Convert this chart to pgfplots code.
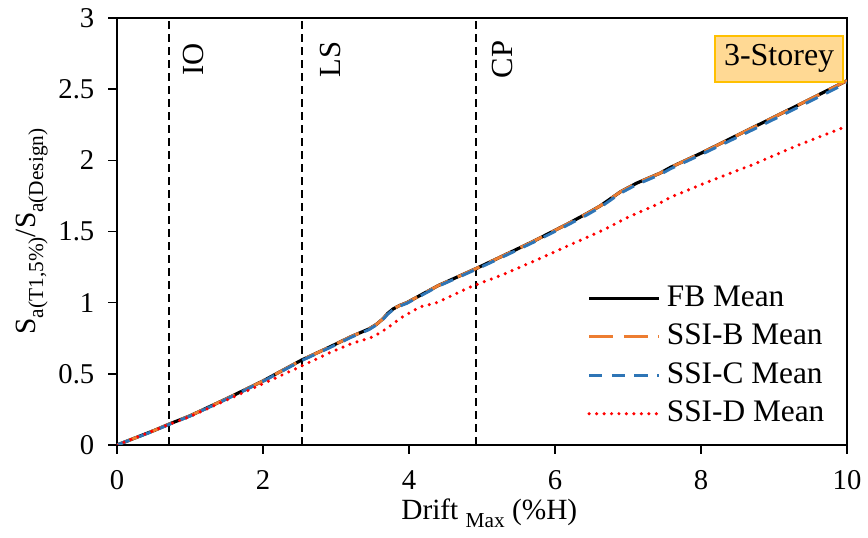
\documentclass[border=0pt]{standalone}
\usepackage{pgfplots}
\pgfplotsset{compat=1.18}
\usepackage{fontspec}
\setmainfont{Liberation Serif}
\definecolor{cOrange}{HTML}{ED7D31}
\definecolor{cBlue}{HTML}{2E75B6}
\definecolor{cRed}{HTML}{FF0000}
\definecolor{boxFill}{HTML}{FFD994}
\definecolor{boxDraw}{HTML}{FFC000}
\newcommand{\sub}[1]{\raisebox{-5.5pt}{\fontsize{16}{18}\selectfont #1}}
\begin{document}
\begin{tikzpicture}
\begin{axis}[
  scale only axis, width=547.5pt, height=320.25pt,
  xmin=0, xmax=10, ymin=0, ymax=3,
  xtick={0,2,4,6,8,10}, ytick={0,0.5,1,1.5,2,2.5,3},
  xtick pos=bottom, ytick pos=left,
  tick align=outside, major tick length=6.5pt,
  axis line style={line width=1.1pt},
  every tick/.style={line width=1.1pt, black},
  /pgf/number format/assume math mode=true,
  tick label style={font=\fontsize{21.5}{25}\selectfont},
  xticklabel style={yshift=-9pt},
  yticklabel style={xshift=-7pt},
  xlabel={Drift \sub{Max} (\%H)},
  ylabel={S\sub{a(T1,5\%)}/S\sub{a(Design)}},
  label style={font=\fontsize{22}{26}\selectfont},
  xlabel style={at={(axis description cs:0.51,-0.1756)}, anchor=base, inner sep=0pt},
  ylabel style={at={(axis description cs:-0.0945,0.5)}, anchor=south, inner sep=0pt},
  legend cell align=left,
  legend style={draw=none, fill=none, at={(axis description cs:0.644,0.378)}, anchor=north west,
    font=\fontsize{23.5}{28}\selectfont, inner sep=0pt, row sep=6.8pt, column sep=4.5pt,
    nodes={inner sep=0pt, text height=17pt, text depth=5pt}},
  legend image code/.code={\draw[#1] (0pt,0pt) -- (52.5pt,0pt);},
]
% limit-state lines
\addplot[black, line width=0.9pt, dash pattern=on 6pt off 3.75pt, forget plot] coordinates {(0.712,0) (0.712,3)};
\addplot[black, line width=0.9pt, dash pattern=on 6pt off 3.75pt, forget plot] coordinates {(2.534,0) (2.534,3)};
\addplot[black, line width=0.9pt, dash pattern=on 6pt off 3.75pt, forget plot] coordinates {(4.918,0) (4.918,3)};
\node[rotate=90, anchor=north, inner sep=0pt, font=\fontsize{23}{27}\selectfont] at (axis cs:0.90,2.71) {IO};
\node[rotate=90, anchor=north, inner sep=0pt, font=\fontsize{23}{27}\selectfont] at (axis cs:2.78,2.71) {LS};
\node[rotate=90, anchor=north, inner sep=0pt, font=\fontsize{23}{27}\selectfont] at (axis cs:5.14,2.71) {CP};
% FB Mean
\addplot[black, line width=2.4pt] coordinates {
(0,0) (0.5,0.10) (0.72,0.148) (1.0,0.205) (1.5,0.325) (2.0,0.45) (2.53,0.597) (2.92,0.69)
(3.2,0.76) (3.45,0.815) (3.56,0.85) (3.64,0.885) (3.71,0.925) (3.78,0.955) (3.87,0.98) (3.97,1.0) (4.4,1.12) (4.92,1.24)
(5.25,1.32) (5.7,1.43) (6.16,1.55) (6.45,1.63) (6.62,1.68) (6.9,1.78) (7.12,1.84) (7.44,1.91)
(7.58,1.95) (8.0,2.05) (8.71,2.23) (9.3,2.38) (10,2.56)};
\addlegendentry{FB Mean}
% SSI-B Mean
\addplot[cOrange, line width=2.2pt, dash pattern=on 18pt off 8pt] coordinates {
(0,0) (0.5,0.10) (0.72,0.148) (1.0,0.205) (1.5,0.325) (2.0,0.45) (2.53,0.597) (2.92,0.69)
(3.2,0.76) (3.45,0.815) (3.56,0.85) (3.64,0.885) (3.71,0.925) (3.78,0.955) (3.87,0.98) (3.97,1.0) (4.4,1.12) (4.92,1.24)
(5.25,1.32) (5.7,1.43) (6.16,1.55) (6.45,1.63) (6.62,1.68) (6.9,1.78) (7.12,1.84) (7.44,1.91)
(7.58,1.95) (8.0,2.05) (8.71,2.23) (9.3,2.38) (10,2.56)};
\addlegendentry{SSI-B Mean}
% SSI-C Mean
\addplot[cBlue, line width=2.2pt, dash pattern=on 10pt off 7pt] coordinates {
(0,0) (0.5,0.098) (0.72,0.146) (1.0,0.203) (1.5,0.322) (2.0,0.447) (2.53,0.593) (2.92,0.685)
(3.2,0.755) (3.45,0.81) (3.56,0.845) (3.64,0.88) (3.71,0.92) (3.78,0.95) (3.87,0.975) (3.97,0.995) (4.4,1.115) (4.92,1.234)
(5.25,1.313) (5.7,1.423) (6.16,1.542) (6.45,1.62) (6.62,1.67) (6.9,1.77) (7.12,1.83) (7.44,1.90)
(7.58,1.94) (8.0,2.04) (8.71,2.215) (9.3,2.365) (10,2.545)};
\addlegendentry{SSI-C Mean}
% SSI-D Mean
\addplot[cRed, line width=2.6pt, line cap=round, dash pattern=on 0pt off 5.6pt] coordinates {
(0,0) (0.5,0.10) (0.72,0.146) (1.0,0.20) (1.5,0.315) (2.0,0.43) (2.5,0.548) (2.92,0.65)
(3.2,0.71) (3.51,0.76) (3.70,0.82) (3.88,0.89) (4.15,0.97) (4.38,1.0) (4.84,1.11) (5.3,1.20)
(5.75,1.30) (6.2,1.405) (6.66,1.51) (7.0,1.60) (7.44,1.70) (7.58,1.74) (8.1,1.85) (8.71,1.97)
(9.3,2.10) (10,2.24)};
\addlegendentry{SSI-D Mean}
\node[draw=boxDraw, fill=boxFill, line width=1.2pt, minimum width=96pt, minimum height=34.5pt, inner sep=0pt,
  font=\fontsize{24}{28}\selectfont] at (axis cs:9.07,2.713) {3-Storey};
\coordinate (bl) at (rel axis cs:0,0);
\coordinate (tr) at (rel axis cs:1,1);
\end{axis}
\pgfresetboundingbox
\useasboundingbox ([shift={(-87.75pt,-69.75pt)}]bl) rectangle ([shift={(15.75pt,13.5pt)}]tr);
\end{tikzpicture}
\end{document}
